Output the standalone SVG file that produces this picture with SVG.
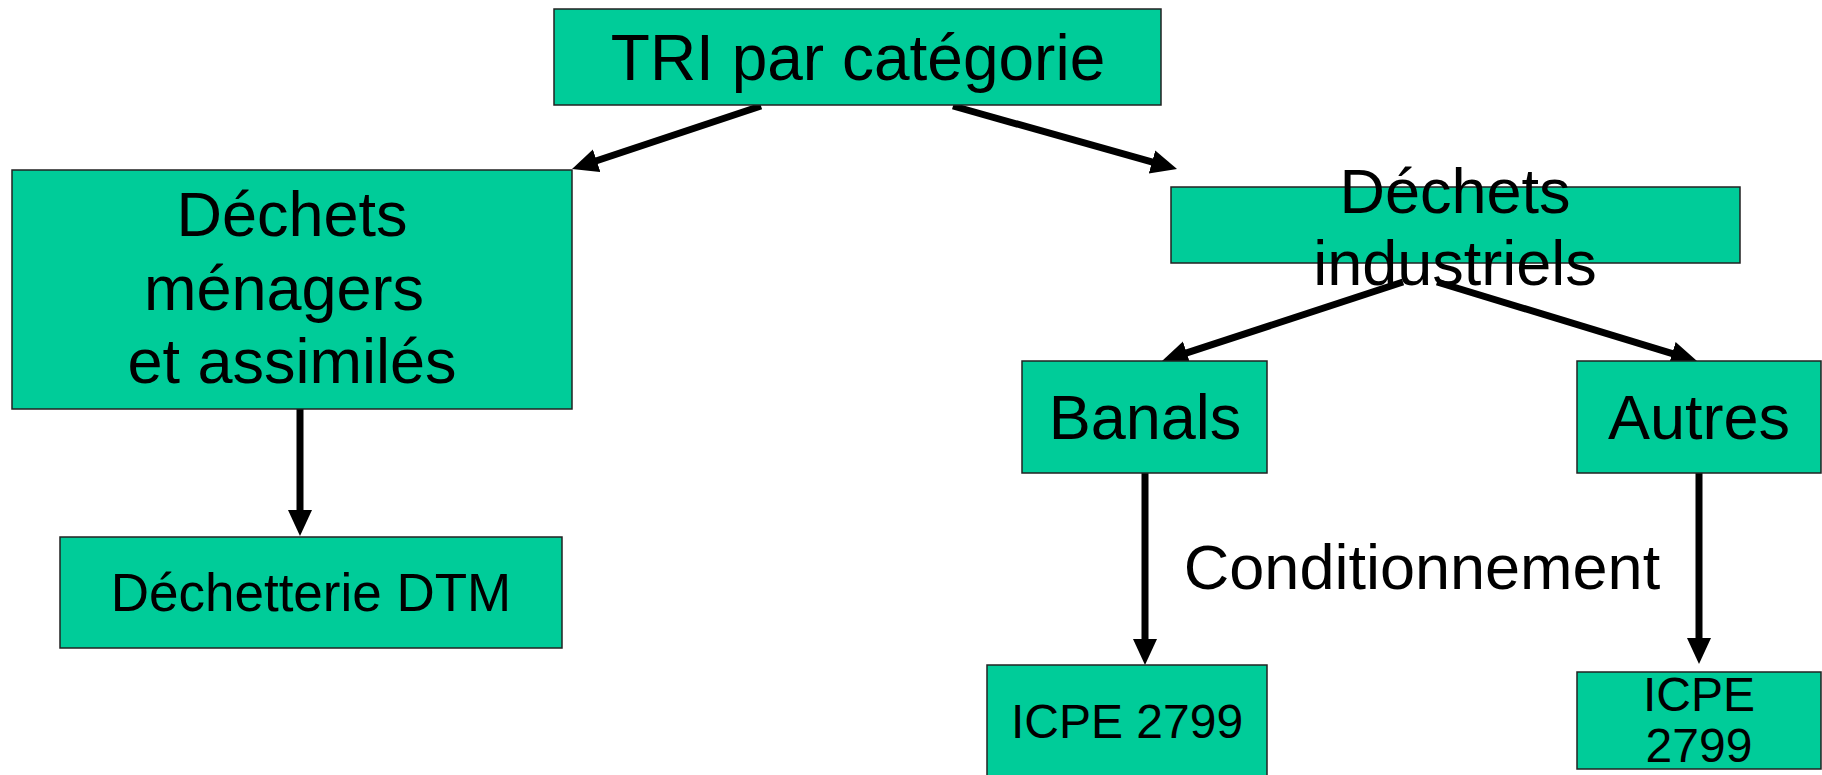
<svg xmlns="http://www.w3.org/2000/svg" width="1822" height="775" viewBox="0 0 1822 775">
<style>
.box{fill:#00CC99;stroke:#222;stroke-width:1.5}
.t{font-family:"Liberation Sans",Arial,sans-serif;fill:#000;text-anchor:middle}
.c{stroke:#000;stroke-width:7;fill:none;marker-end:url(#ah)}
</style>
<defs>
<marker id="ah" markerUnits="userSpaceOnUse" markerWidth="28" markerHeight="26" refX="8" refY="12" orient="auto" viewBox="0 0 28 26">
<path d="M0,0 L26,12 L0,24 z" fill="#000"/>
</marker>
</defs>
<rect width="1822" height="775" fill="#fff"/>
<g id="connectors">
<line class="c" x1="761" y1="106" x2="589.1" y2="163.3"/>
<line class="c" x1="953" y1="106" x2="1159.7" y2="164.1"/>
<line class="c" x1="300" y1="409" x2="300" y2="518"/>
<line class="c" x1="1403" y1="282" x2="1179.1" y2="355.4"/>
<line class="c" x1="1437" y1="282" x2="1679.8" y2="355.8"/>
<line class="c" x1="1145" y1="473" x2="1145" y2="647"/>
<line class="c" x1="1699" y1="473" x2="1699" y2="646"/>
</g>
<g id="tri">
<rect class="box" x="554" y="9" width="607" height="96"/>
<text class="t" x="858" y="80" font-size="64">TRI par catégorie</text>
</g>
<g id="menagers">
<rect class="box" x="12" y="170" width="560" height="239"/>
<text class="t" font-size="63"><tspan x="292" y="236">Déchets</tspan><tspan x="284" y="310">ménagers</tspan><tspan x="292" y="383">et assimilés</tspan></text>
</g>
<g id="industriels">
<rect class="box" x="1171" y="187" width="569" height="76"/>
<text class="t" font-size="63"><tspan x="1455" y="213">Déchets</tspan><tspan x="1455" y="285">industriels</tspan></text>
</g>
<g id="banals">
<rect class="box" x="1022" y="361" width="245" height="112"/>
<text class="t" x="1145" y="439" font-size="63">Banals</text>
</g>
<g id="autres">
<rect class="box" x="1577" y="361" width="244" height="112"/>
<text class="t" x="1699" y="439" font-size="63">Autres</text>
</g>
<g id="conditionnement">
<text class="t" x="1422" y="589" font-size="63">Conditionnement</text>
</g>
<g id="dechetterie">
<rect class="box" x="60" y="537" width="502" height="111"/>
<text class="t" x="311" y="611" font-size="53">Déchetterie DTM</text>
</g>
<g id="icpe1">
<rect class="box" x="987" y="665" width="280" height="130"/>
<text class="t" x="1127" y="738" font-size="48">ICPE 2799</text>
</g>
<g id="icpe2">
<rect class="box" x="1577" y="672" width="244" height="97"/>
<text class="t" font-size="48"><tspan x="1699" y="711">ICPE</tspan><tspan x="1699" y="762">2799</tspan></text>
</g>
</svg>
